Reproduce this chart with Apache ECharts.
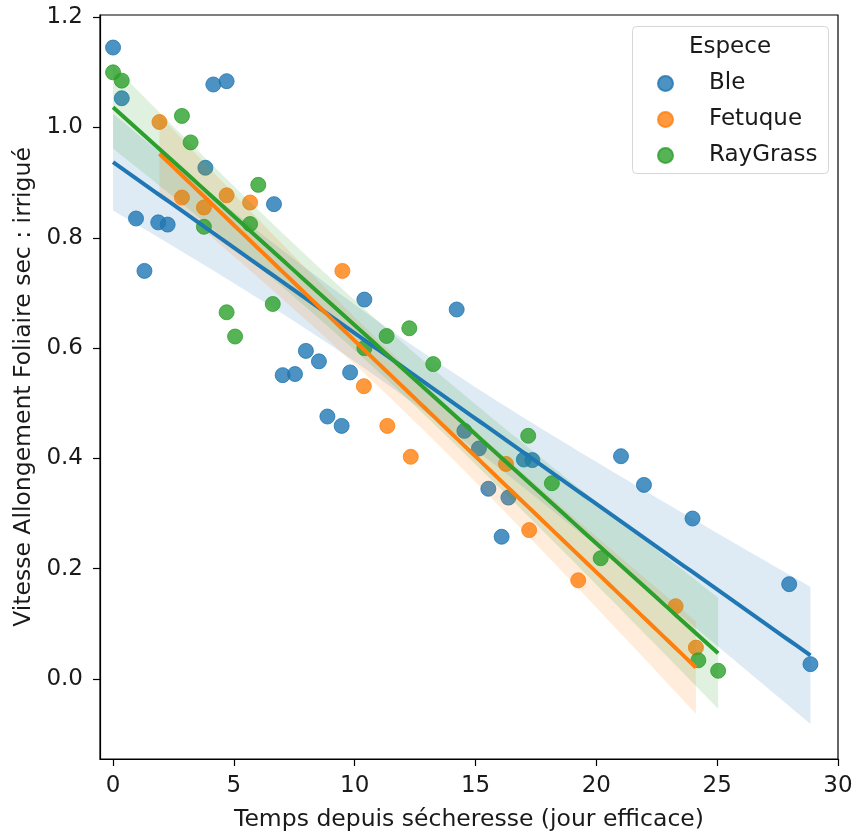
<!DOCTYPE html>
<html>
<head>
<meta charset="utf-8">
<script src="https://cdn.jsdelivr.net/npm/echarts@6/dist/echarts.min.js"></script>
<style>
html,body{margin:0;padding:0;background:#fff;}
#chart{width:857px;height:838px;}
</style>
</head>
<body>
<div id="chart"></div>
<script>
// ---- data ----
const species = ['Ble', 'Fetuque', 'RayGrass'];
const bleX = [0.00, 0.36, 0.95, 1.30, 1.87, 2.26, 3.82, 4.15, 4.70, 6.66, 7.02, 7.53, 7.98, 8.52, 8.87, 9.46, 9.81, 10.40, 14.22, 14.54, 15.14, 15.53, 16.08, 16.36, 17.00, 17.35, 21.02, 21.97, 23.98, 27.98, 28.86];
const bleY = [1.145, 1.053, 0.835, 0.740, 0.828, 0.824, 0.927, 1.078, 1.084, 0.861, 0.551, 0.553, 0.595, 0.576, 0.476, 0.459, 0.556, 0.688, 0.670, 0.450, 0.418, 0.345, 0.258, 0.329, 0.398, 0.397, 0.404, 0.352, 0.291, 0.172, 0.027];
const fetuqueX = [1.92, 2.85, 3.76, 4.70, 5.67, 9.49, 10.38, 11.35, 12.32, 16.26, 17.22, 19.25, 23.28, 24.12];
const fetuqueY = [1.010, 0.873, 0.855, 0.877, 0.864, 0.740, 0.531, 0.459, 0.403, 0.390, 0.270, 0.179, 0.132, 0.057];
const raygrassX = [0.00, 0.36, 2.85, 3.21, 3.76, 4.70, 5.05, 5.67, 6.01, 6.61, 10.40, 11.32, 12.26, 13.25, 17.18, 18.16, 20.18, 24.22, 25.04];
const raygrassY = [1.100, 1.085, 1.021, 0.973, 0.820, 0.665, 0.621, 0.825, 0.896, 0.680, 0.600, 0.622, 0.636, 0.571, 0.441, 0.355, 0.219, 0.034, 0.015];
const xTicks = [0, 5, 10, 15, 20, 25, 30];
const yTicks = [0.0, 0.2, 0.4, 0.6, 0.8, 1.0, 1.2];
const colors = ['#1f77b4', '#ff7f0e', '#2ca02c'];
const fillColors = ['rgba(31,119,180,0.15)', 'rgba(255,127,14,0.15)', 'rgba(44,160,44,0.15)'];
// Student t 97.5% quantiles for the residual degrees of freedom
const T975 = {12: 2.179, 17: 2.110, 29: 2.045};

function fit(xs, ys) {
  const n = xs.length;
  const mx = xs.reduce((a, b) => a + b, 0) / n;
  const my = ys.reduce((a, b) => a + b, 0) / n;
  let sxx = 0, sxy = 0;
  for (let i = 0; i < n; i++) { sxx += (xs[i] - mx) ** 2; sxy += (xs[i] - mx) * (ys[i] - my); }
  const b = sxy / sxx, a = my - b * mx;
  let ss = 0;
  for (let i = 0; i < n; i++) ss += (ys[i] - a - b * xs[i]) ** 2;
  const s2 = ss / (n - 2);
  const t = T975[n - 2] || 2.05;
  const x0 = Math.min(...xs), x1 = Math.max(...xs);
  const line = [], band = [];
  const N = 100;
  for (let k = 0; k < N; k++) {
    const x = x0 + (x1 - x0) * k / (N - 1);
    const yh = a + b * x;
    const h = t * Math.sqrt(s2 * (1 / n + (x - mx) ** 2 / sxx));
    line.push([x, yh]);
    band.push([x, yh - h, yh + h]);
  }
  return {line, band};
}

const sets = [[bleX, bleY], [fetuqueX, fetuqueY], [raygrassX, raygrassY]];
const fits = sets.map(s => fit(s[0], s[1]));
const FONT = 'DejaVu Sans';
const FS = 23;

const series = [];
sets.forEach((s, i) => {
  series.push({
    name: species[i], type: 'scatter', z: 2 + 2 * i,
    data: s[0].map((x, k) => [x, s[1][k]]),
    symbolSize: 15,
    itemStyle: {color: colors[i], opacity: 0.8, borderColor: colors[i], borderWidth: 1},
    emphasis: {disabled: true}
  });
  const band = fits[i].band;
  series.push({
    name: species[i] + ' IC', type: 'custom', z: 3 + 2 * i,
    data: band,
    encode: {x: 0, y: [1, 2]},
    clip: true,
    silent: true,
    renderItem: function (params, api) {
      if (params.dataIndex !== 0) return null;
      const pts = [];
      for (let k = 0; k < band.length; k++) pts.push(api.coord([band[k][0], band[k][2]]));
      for (let k = band.length - 1; k >= 0; k--) pts.push(api.coord([band[k][0], band[k][1]]));
      return {type: 'polygon', shape: {points: pts}, style: {fill: fillColors[i], stroke: null}};
    }
  });
});
fits.forEach((f, i) => {
  series.push({
    name: species[i] + ' reg', type: 'line', z: 9 + i,
    data: f.line, showSymbol: false, symbol: 'none',
    lineStyle: {color: colors[i], width: 4},
    silent: true
  });
});

const chart = echarts.init(document.getElementById('chart'), null, {renderer: 'canvas'});
chart.setOption({
  animation: false,
  backgroundColor: '#fff',
  textStyle: {fontFamily: FONT},
  grid: {left: 100, right: 19, top: 15, bottom: 79, show: true, borderColor: '#000', borderWidth: 1.2, backgroundColor: 'transparent'},
  xAxis: {
    type: 'value', min: -0.54, max: 30,
    name: 'Temps depuis sécheresse (jour efficace)', nameLocation: 'middle', nameGap: 49,
    nameTextStyle: {fontSize: 23.5, color: '#1a1a1a', fontFamily: FONT},
    axisLine: {show: true, onZero: false, lineStyle: {color: '#000', width: 1.2}},
    axisTick: {show: true, customValues: xTicks, length: 7, inside: false, lineStyle: {color: '#000', width: 1.2}},
    axisLabel: {customValues: xTicks, fontSize: FS, color: '#1a1a1a', margin: 16, fontFamily: FONT, formatter: v => String(v)},
    splitLine: {show: false}
  },
  yAxis: {
    type: 'value', min: -0.145, max: 1.204,
    name: 'Vitesse Allongement Foliaire sec : irrigué', nameLocation: 'middle', nameGap: 63,
    nameTextStyle: {fontSize: 23.5, color: '#1a1a1a', fontFamily: FONT},
    axisLine: {show: true, onZero: false, lineStyle: {color: '#000', width: 1.2}},
    axisTick: {show: true, customValues: yTicks, length: 7, inside: false, lineStyle: {color: '#000', width: 1.2}},
    axisLabel: {customValues: yTicks, fontSize: FS, color: '#1a1a1a', margin: 17, fontFamily: FONT, formatter: v => v.toFixed(1)},
    splitLine: {show: false}
  },
  legend: {
    data: species, orient: 'vertical', left: 652, top: 67,
    itemWidth: 15, itemHeight: 15, itemGap: 13, icon: 'circle',
    textStyle: {fontSize: FS, color: '#1a1a1a', fontFamily: FONT, lineHeight: 23, padding: [0, 0, 0, 31]},
    z: 20
  },
  graphic: [
    {type: 'rect', left: 632, top: 26, z: 15, shape: {width: 196, height: 147, r: 4},
     style: {fill: 'rgba(255,255,255,0.8)', stroke: '#d6d6d6', lineWidth: 1}},
    {type: 'text', x: 730, y: 47, z: 16,
     style: {text: 'Espece', fontSize: FS, fontFamily: FONT, fill: '#1a1a1a', textAlign: 'center', textVerticalAlign: 'middle'}}
  ],
  series: series
});
</script>
</body>
</html>
